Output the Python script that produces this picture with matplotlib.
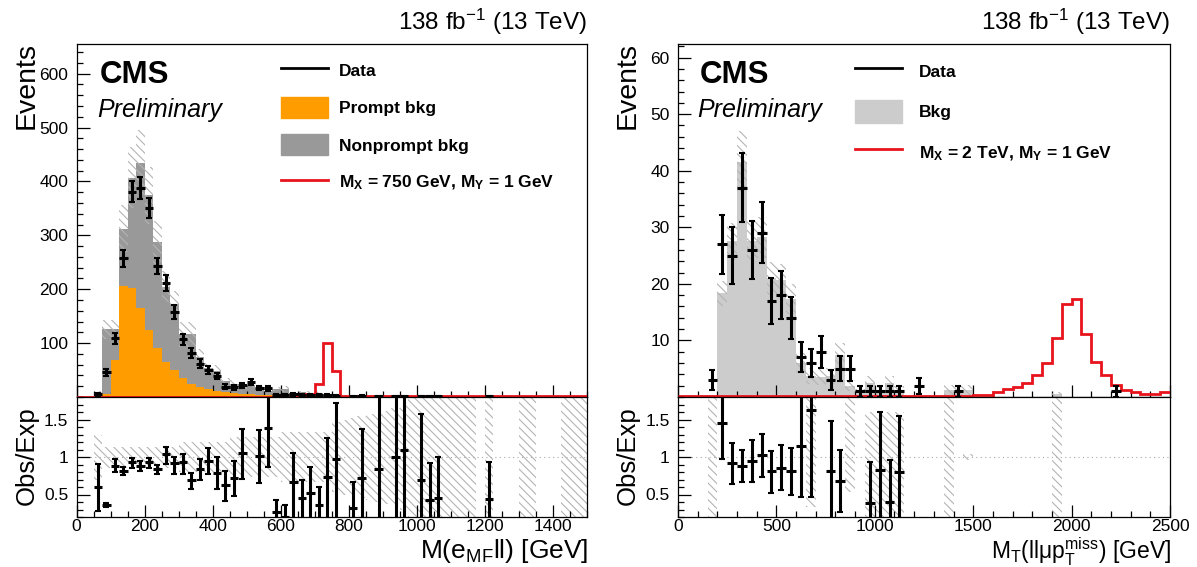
import numpy as np
import matplotlib.pyplot as plt
from matplotlib.lines import Line2D
from matplotlib.patches import Patch
from matplotlib.ticker import MultipleLocator, FuncFormatter

plt.rcParams['font.family'] = ['Liberation Sans', 'DejaVu Sans']
plt.rcParams['mathtext.fontset'] = 'custom'
plt.rcParams['mathtext.rm'] = 'Liberation Sans'
plt.rcParams['mathtext.it'] = 'Liberation Sans:italic'
plt.rcParams['mathtext.bf'] = 'Liberation Sans:bold'
plt.rcParams['hatch.color'] = '#b4b4b4'
plt.rcParams['hatch.linewidth'] = 0.8

# ---------------- left: M(e_MF ll), 25 GeV bins from 50 to 1500 GeV
l_edges = np.arange(50, 1525, 25)
l_data = [5, 46, 109, 257, 381, 388, 351, 243, 212, 158, 107, 81, 62, 50, 39, 19, 18, 22, 28, 17,
          16, 4, 3, 5, 4, 4, 3, 3, 2, 0, 1, 2, 0, 1, 0, 1, 1, 0, 1, 1,
          1, 0, 0, 0, 0, 0, 1, 0, 0, 0, 0, 0, 0, 0, 0, 0, 0, 0]
l_bkg = [8, 126, 126, 312, 407, 435, 374, 287, 205, 172, 116, 116, 74, 53, 49, 30, 25, 21, 22, 17,
         12, 15, 15, 7.5, 8.7, 7.7, 8.3, 4, 2, 2, 3, 2.8, 2, 1.2, 1, 1, 1, 1, 1.4, 2.3,
         2.2, 1, 1, 1, 1, 0, 2.3, 0, 0, 0, 1, 1, 0, 0, 0, 1, 1, 1]
l_prompt = [1, 5, 69, 206, 203, 165, 125, 91, 65, 51, 35, 25, 19, 14, 11, 9, 7, 6, 5, 4,
            3, 3, 2, 2, 2, 2, 1.5, 1.5, 1, 1, 1, 1, 1, 0.5, 0.5, 0.5, 0.5, 0.5, 0.5, 0.5,
            0.5, 0.5, 0.5, 0.5, 0.5, 0, 0.5, 0, 0, 0, 0.5, 0.5, 0, 0, 0, 0.5, 0.5, 0.5]
l_unc = [0.3, 0.14, 0.14, 0.14, 0.14, 0.14, 0.14, 0.14, 0.14, 0.14, 0.2, 0.2, 0.2, 0.2, 0.2, 0.2, 0.27, 0.27, 0.27, 0.27,
         0.27, 0.27, 0.33, 0.33, 0.33, 0.33, 0.33, 0.33, 0.47, 0.5, 0.52, 0.55, 0.57, 0.6, 0.62, 0.65, 0.7, 0.8, 0.9, 0.9,
         0.9, 0.9, 0.9, 0.9, 0.9, 0, 0.9, 0, 0, 0, 0.9, 0.9, 0, 0, 0, 0.9, 0.9, 0.9]
l_sig = [0.5, 0.5, 0.5, 0.5, 0.5, 0.5, 0.5, 0.5, 0.5, 0.5, 0.5, 0.5, 0.5, 0.5, 0.5, 0.5, 0.5, 0.5, 0.5, 0.5,
         0.5, 0.5, 0.5, 0.5, 0.5, 6, 24, 100, 49, 1, 1, 1, 1, 1, 1, 1, 1, 1, 1, 1,
         1, 1, 1, 1, 1, 1, 1, 1, 1, 1, 1, 1, 1, 1, 1, 1, 1, 1]

# ratio points read from the lower pad
l_rx = [62.5, 87.5, 112.5, 137.5, 162.5, 187.5, 212.5, 237.5, 262.5, 287.5, 312.5, 337.5, 362.5,
        387.5, 412.5, 437.5, 462.5, 487.5, 537.5, 562.5, 587.5, 612.5, 637.5, 662.5, 687.5, 712.5,
        737.5, 762.5, 812.5, 837.5, 887.5, 937.5, 962.5, 1012.5, 1037.5, 1062.5, 1212.5]
l_r = [0.60, 0.36, 0.88, 0.82, 0.93, 0.88, 0.93, 0.84, 1.04, 0.92, 0.93, 0.70, 0.84,
       0.95, 0.79, 0.63, 0.72, 1.05, 1.02, 1.39, 0.27, 0.20, 0.67, 0.46, 0.52, 0.36,
       0.73, 0.97, 0.32, 0.72, 0.84, 1.00, 1.09, 0.70, 0.43, 0.46, 0.44]
l_rlo = [0.28, 0.33, 0.80, 0.76, 0.86, 0.82, 0.85, 0.77, 0.91, 0.77, 0.77, 0.58, 0.70,
         0.77, 0.58, 0.42, 0.48, 0.71, 0.66, 0.87, 0.15, 0.10, 0.15, 0.15, 0.15, 0.15,
         0.15, 0.15, 0.15, 0.15, 0.15, 0.15, 0.15, 0.15, 0.15, 0.15, 0.15]
l_rhi = [0.91, 0.39, 0.97, 0.87, 0.99, 0.95, 0.99, 0.90, 1.13, 1.00, 1.04, 0.79, 0.97,
         1.12, 1.00, 0.82, 0.95, 1.38, 1.36, 2.0, 0.43, 0.36, 1.05, 0.69, 0.87, 0.60,
         1.25, 1.72, 0.67, 1.37, 2.0, 2.0, 2.0, 1.58, 0.92, 1.00, 0.94]

# ---------------- right: M_T(ll mu pTmiss), 50 GeV bins from 0 to 2500 GeV
r_edges = np.arange(0, 2550, 50)
r_data = [0, 0, 0, 3, 27, 25, 37, 26, 29, 17, 18, 14, 7, 6, 8, 3, 5, 5, 1, 1,
          1, 1, 1, 0, 2, 0, 0, 0, 1, 0, 0, 0, 0, 0, 0, 0, 0, 0, 0, 0,
          0, 0, 0, 0, 1, 0, 0, 0, 0, 0]
r_bkg = [0, 0, 0, 0, 18.3, 27.5, 41.6, 27.5, 28.2, 21, 20.7, 17.3, 6, 3.7, 3.5, 3.7, 7.4, 2, 1, 2.5,
         1.2, 2.5, 1.25, 0, 0, 0, 0, 1.2, 1.2, 1.2, 0, 0, 0, 0, 0, 0, 0, 0, 0.5, 0,
         0, 0, 0, 0, 0, 0, 0, 0, 0, 0]
r_unc = [0, 0, 0, 0, 0.12, 0.12, 0.13, 0.13, 0.13, 0.14, 0.14, 0.15, 0.3, 0.4, 0.4, 0.4, 0.3, 0.5, 0.5, 0.5,
         0.5, 0.5, 0.5, 0, 0, 0, 0, 0.8, 0.8, 0.8, 0, 0, 0, 0, 0, 0, 0, 0, 0.8, 0,
         0, 0, 0, 0, 0, 0, 0, 0, 0, 0]
r_sig = [0.1, 0.1, 0.1, 0.1, 0.1, 0.1, 0.1, 0.1, 0.1, 0.1, 0.1, 0.1, 0.1, 0.1, 0.1, 0.1, 0.1, 0.1, 0.1, 0.1,
         0.1, 0.1, 0.1, 0.1, 0.1, 0.1, 0.1, 0.1, 0.1, 0.1, 0.35, 0.35, 0.94, 1.4, 1.8, 2.5, 3.9, 5.95, 10.4, 16.5,
         17.4, 11.1, 6.2, 3.9, 2.1, 1.2, 0.8, 0.5, 0.5, 0.9]

r_rx = [225, 275, 325, 375, 425, 475, 525, 575, 625, 675, 775, 825, 975, 1025, 1075, 1125]
r_r = [1.46, 0.92, 0.88, 0.95, 1.03, 0.81, 0.86, 0.81, 1.15, 1.63, 0.81, 0.68, 0.39, 0.83, 0.40, 0.80]
r_rlo = [0.98, 0.64, 0.67, 0.67, 0.73, 0.52, 0.56, 0.50, 0.47, 0.47, 0.15, 0.27, 0.15, 0.15, 0.15, 0.15]
r_rhi = [2.0, 1.19, 1.10, 1.23, 1.31, 1.08, 1.16, 1.12, 2.0, 2.0, 1.48, 1.10, 0.94, 1.60, 0.96, 1.55]

# ratio band, right pad (only a few bins show it)
r_band_x0 = [150, 650, 850, 950, 1350, 1450, 1900]
r_band_x1 = [200, 700, 900, 1150, 1400, 1500, 1950]
r_band_lo = [0.2, 0.34, 0.54, 0.2, 0.2, 0.96, 0.2]
r_band_hi = [1.8, 1.8, 1.8, 1.6, 1.8, 1.04, 1.8]

ORANGE = '#ff9c00'
GREY = '#999999'
LGREY = '#cccccc'
RED = '#e8141c'
HATCH = '\\\\\\\\'

W, H = 1197, 567
fig = plt.figure(figsize=(W / 100, H / 100), dpi=100)


def px_axes(x0, y0, x1, y1):
    return fig.add_axes([x0 / W, 1 - y1 / H, (x1 - x0) / W, (y1 - y0) / H])


def style(ax, xmaj, xmin, ymaj, ymin):
    ax.xaxis.set_major_locator(MultipleLocator(xmaj))
    ax.xaxis.set_minor_locator(MultipleLocator(xmin))
    ax.yaxis.set_major_locator(MultipleLocator(ymaj))
    ax.yaxis.set_minor_locator(MultipleLocator(ymin))
    ax.tick_params(which='both', direction='in', top=False, right=False, labelsize=12.5, width=0.9)
    ax.tick_params(which='major', length=9)
    ax.tick_params(which='minor', length=4.5)
    ax.tick_params(axis='y', pad=6)
    ax.tick_params(axis='x', pad=1.5)
    for s in ax.spines.values():
        s.set_linewidth(0.9)


def draw_data(ax, x, y, yerr_lo, yerr_hi, hw):
    ax.errorbar(x, y, yerr=[yerr_lo, yerr_hi], fmt='none', ecolor='black', elinewidth=2.2, capsize=2.2, capthick=1.5, zorder=5)
    ax.errorbar(x, y, xerr=hw, fmt='none', ecolor='black', elinewidth=2.2, capsize=0, zorder=5)


def top_texts(ax, x1):
    fig.text(x1 / W, 1 - 22 / H, r'138 fb$^{-1}$ (13 TeV)', ha='right', va='center', fontsize=17.5)
    ax.text(0.045, 0.912, 'CMS', transform=ax.transAxes, fontsize=22.5, fontweight='bold', va='center')
    ax.text(0.04, 0.813, 'Preliminary', transform=ax.transAxes, fontsize=18, style='italic', va='center')


# ================= left
axm = px_axes(76.5, 44, 587, 397)
axr = px_axes(76.5, 397, 587, 517)

axm.stairs(l_bkg, l_edges, fill=True, color=GREY, lw=0, zorder=1)
axm.stairs(l_prompt, l_edges, fill=True, color=ORANGE, lw=0, zorder=2)
lb = np.array(l_bkg)
lu = np.array(l_unc)
axm.stairs(lb * (1 + lu), l_edges, baseline=lb * (1 - lu), fill=True, facecolor='none',
           edgecolor='#b4b4b4', hatch=HATCH, lw=0, zorder=3)
axm.stairs(l_sig, l_edges, color=RED, lw=2, baseline=None, zorder=4)
axm.plot([0, 50], [0.5, 0.5], color=RED, lw=2, zorder=4)
ld = np.array(l_data, dtype=float)
lc = (l_edges[:-1] + l_edges[1:]) / 2
m = ld > 0
draw_data(axm, lc[m], ld[m], np.sqrt(ld[m]), np.sqrt(ld[m]), 12.5)

axm.set_xlim(0, 1500)
axm.set_ylim(0, 655)
style(axm, 200, 50, 100, 20)
axm.tick_params(labelbottom=False)
axm.yaxis.set_major_formatter(FuncFormatter(lambda v, p: '' if v == 0 else '%d' % v))
top_texts(axm, 587)
handles = [Line2D([], [], color='black', lw=2), Patch(color=ORANGE), Patch(color=GREY),
           Line2D([], [], color=RED, lw=2)]
labels = ['Data', 'Prompt bkg', 'Nonprompt bkg', r'M$_{\mathbf{X}}$ = 750 GeV, M$_{\mathbf{Y}}$ = 1 GeV']
axm.legend(handles, labels, loc='upper left', bbox_to_anchor=(0.401, 0.954), frameon=False,
           prop={'weight': 'bold', 'size': 12.5}, handlelength=2.7, handleheight=1.45,
           handletextpad=0.6, labelspacing=0.95, borderpad=0, borderaxespad=0)

lu_band = np.where(lb > 0, lu, 0)
axr.stairs(1 + lu_band, l_edges, baseline=1 - lu_band, fill=True, facecolor='none',
           edgecolor='#b4b4b4', hatch=HATCH, lw=0, zorder=1)
axr.axhline(1, color='#aaaaaa', lw=0.8, ls=(0, (1, 3)), zorder=0)
lr = np.array(l_r)
draw_data(axr, l_rx, lr, lr - np.array(l_rlo), np.array(l_rhi) - lr, 12.5)
axr.set_xlim(0, 1500)
axr.set_ylim(0.2, 1.8)
style(axr, 200, 50, 0.5, 0.1)
axr.yaxis.set_major_formatter(FuncFormatter(lambda v, p: '%g' % v))

fig.text(27 / W, 1 - 42 / H, 'Events', rotation=90, ha='center', va='top', fontsize=20.5)
fig.text(27 / W, 1 - 456 / H, 'Obs/Exp', rotation=90, ha='center', va='center', fontsize=18.5)
fig.text(588 / W, 1 - 551 / H, r'M(e$_{\mathrm{MF}}$ll) [GeV]', ha='right', va='center', fontsize=19)

# ================= right
bxm = px_axes(678, 44, 1170, 397)
bxr = px_axes(678, 397, 1170, 517)

rb = np.array(r_bkg)
ru = np.array(r_unc)
bxm.stairs(rb, r_edges, fill=True, color=LGREY, lw=0, zorder=1)
bxm.stairs(rb * (1 + ru), r_edges, baseline=rb * (1 - ru), fill=True, facecolor='none',
           edgecolor='#b4b4b4', hatch=HATCH, lw=0, zorder=3)
bxm.stairs(r_sig, r_edges, color=RED, lw=2, baseline=None, zorder=4)
rd = np.array(r_data, dtype=float)
rc = (r_edges[:-1] + r_edges[1:]) / 2
m = rd > 0
draw_data(bxm, rc[m], rd[m], np.sqrt(rd[m]), np.sqrt(rd[m]), 25)

bxm.set_xlim(0, 2500)
bxm.set_ylim(0, 62.4)
style(bxm, 500, 100, 10, 2)
bxm.tick_params(labelbottom=False)
bxm.yaxis.set_major_formatter(FuncFormatter(lambda v, p: '' if v == 0 else '%d' % v))
top_texts(bxm, 1170)
handles = [Line2D([], [], color='black', lw=2), Patch(color=LGREY), Line2D([], [], color=RED, lw=2)]
labels = ['Data', 'Bkg', r'M$_{\mathbf{X}}$ = 2 TeV, M$_{\mathbf{Y}}$ = 1 GeV']
bxm.legend(handles, labels, loc='upper left', bbox_to_anchor=(0.36, 0.957), frameon=False,
           prop={'weight': 'bold', 'size': 12.5}, handlelength=2.7, handleheight=1.7,
           handletextpad=1.0, labelspacing=1.0, borderpad=0, borderaxespad=0)

for x0, x1, lo, hi in zip(r_band_x0, r_band_x1, r_band_lo, r_band_hi):
    bxr.fill_between([x0, x1], lo, hi, facecolor='none', edgecolor='#b4b4b4', hatch=HATCH, lw=0, zorder=1)
bxr.axhline(1, color='#aaaaaa', lw=0.8, ls=(0, (1, 3)), zorder=0)
rr = np.array(r_r)
draw_data(bxr, r_rx, rr, rr - np.array(r_rlo), np.array(r_rhi) - rr, 25)
bxr.set_xlim(0, 2500)
bxr.set_ylim(0.2, 1.8)
style(bxr, 500, 100, 0.5, 0.1)
bxr.yaxis.set_major_formatter(FuncFormatter(lambda v, p: '%g' % v))

fig.text(628 / W, 1 - 42 / H, 'Events', rotation=90, ha='center', va='top', fontsize=20.5)
fig.text(628 / W, 1 - 456 / H, 'Obs/Exp', rotation=90, ha='center', va='center', fontsize=18.5)
fig.text(1171 / W, 1 - 552 / H, r'M$_{\mathrm{T}}$(llμp$_{\mathrm{T}}^{\mathrm{miss}}$) [GeV]',
         ha='right', va='center', fontsize=16.5)

fig.savefig('out.png', dpi=100)
